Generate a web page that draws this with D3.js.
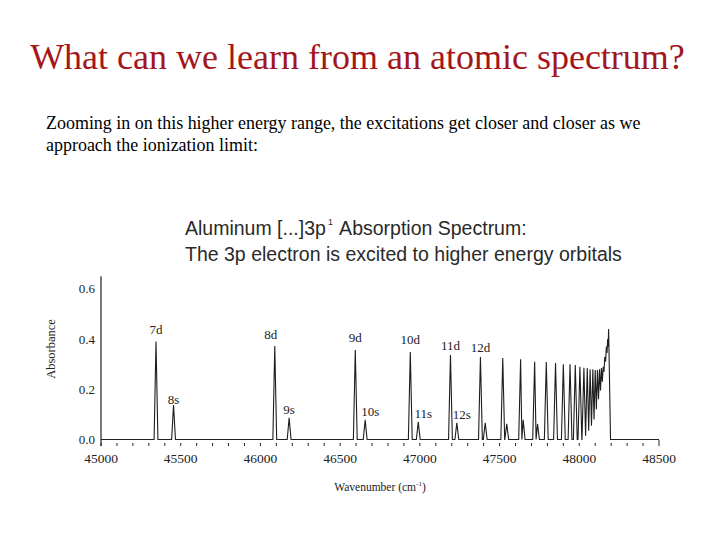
<!DOCTYPE html>
<html>
<head>
<meta charset="utf-8">
<script src="https://cdn.jsdelivr.net/npm/d3@7"></script>
<style>
  html, body { margin: 0; padding: 0; background: #fff; }
  svg { display: block; }
</style>
</head>
<body>
<svg id="chart" width="720" height="540"></svg>
<script>
// ---- data ----
const xTickValues = [45000, 45500, 46000, 46500, 47000, 47500, 48000, 48500];
const xTickLabels = ["45000", "45500", "46000", "46500", "47000", "47500", "48000", "48500"];
const yTickValues = [0.0, 0.2, 0.4, 0.6];
const yTickLabels = ["0.0", "0.2", "0.4", "0.6"];

// peak positions (cm^-1), peak absorbance, and absorbance floor after each peak
const peakPos = [45345, 45455, 46090, 46180, 46595, 46657, 46940, 46990, 47192, 47232,
                 47380, 47410, 47520, 47545, 47632, 47648, 47720, 47738, 47793, 47851,
                 47900, 47942, 47975, 48004, 48029, 48050, 48068, 48085, 48100, 48114,
                 48127, 48139, 48150, 48160, 48170, 48178, 48184];
const peakAbs = [0.39, 0.137, 0.372, 0.086, 0.357, 0.078, 0.349, 0.07, 0.337, 0.066,
                 0.329, 0.066, 0.325, 0.062, 0.32, 0.078, 0.31, 0.062, 0.309, 0.305,
                 0.30, 0.30, 0.297, 0.29, 0.286, 0.285, 0.28, 0.28, 0.277, 0.277,
                 0.28, 0.285, 0.29, 0.33, 0.37, 0.40, 0.44];
const peakFloor = [0, 0, 0, 0, 0, 0, 0, 0, 0, 0,
                   0, 0, 0, 0, 0, 0, 0, 0, 0, 0,
                   0, 0, 0, 0, 0.015, 0.035, 0.055, 0.08, 0.12, 0.16,
                   0.195, 0.23, 0.27, 0.31, 0.345, 0.37, 0];
const peakNames = ["7d", "8s", "8d", "9s", "9d", "10s", "10d", "11s", "11d", "12s", "12d"];

const pageTitle = "What can we learn from an atomic spectrum?";
const introLines = ["Zooming in on this higher energy range, the excitations get closer and closer as we",
                    "approach the ionization limit:"];
const chartTitle2 = "The 3p electron is excited to higher energy orbitals";
const xDomain = [45000, 48500];
const yDomain = [0, 0.65];

// ---- drawing ----
const svg = d3.select("#chart");
const serif = "'Liberation Serif', 'Times New Roman', serif";
const sans = "'Liberation Sans', Arial, sans-serif";
const ink = "#222";

function fit(sel, target) {
  const w = sel.node().getComputedTextLength();
  const fs = parseFloat(sel.attr("font-size"));
  sel.attr("font-size", fs * target / w);
}

// page title
const t = svg.append("text").attr("x", 357.5).attr("y", 69)
  .attr("text-anchor", "middle").attr("font-family", serif).attr("font-size", 36)
  .attr("fill", "#a3161a").text(pageTitle);
fit(t, 655);

// intro paragraph
const l1 = svg.append("text").attr("x", 46).attr("y", 129)
  .attr("font-family", serif).attr("font-size", 17).attr("fill", "#000").text(introLines[0]);
fit(l1, 595);
svg.append("text").attr("x", 46).attr("y", 151)
  .attr("font-family", serif).attr("font-size", l1.attr("font-size")).attr("fill", "#000").text(introLines[1]);

// chart title
const ct2 = svg.append("text").attr("x", 185).attr("y", 261)
  .attr("font-family", sans).attr("font-size", 19).attr("fill", "#2a2a2a").text(chartTitle2);
fit(ct2, 437);
const ctfs = +ct2.attr("font-size");
const ct1 = svg.append("text").attr("x", 185).attr("y", 234.5)
  .attr("font-family", sans).attr("font-size", ctfs).attr("fill", "#2a2a2a");
ct1.append("tspan").text("Aluminum [...]3p");
ct1.append("tspan").attr("font-size", ctfs * 0.45).attr("dy", -ctfs * 0.5).attr("dx", 2).text("1");
ct1.append("tspan").attr("dy", ctfs * 0.5).attr("dx", 2).text(" Absorption Spectrum:");

// scales
const x = d3.scaleLinear().domain(xDomain).range([101, 659]);
const y = d3.scaleLinear().domain(yDomain).range([439.5, 439.5 - 0.65 * 251]);
const axisY = 446;

// y axis line
svg.append("line").attr("x1", 101).attr("x2", 101)
  .attr("y1", y(yDomain[1])).attr("y2", axisY)
  .attr("stroke", ink).attr("stroke-width", 1.2);

// y tick labels
svg.selectAll(".ylab").data(yTickValues).join("text")
  .attr("x", 95).attr("y", d => y(d) + 4.5)
  .attr("text-anchor", "end").attr("font-family", serif).attr("font-size", 13)
  .attr("fill", ink).text((d, i) => yTickLabels[i]);

// x minor/major ticks (no domain line)
const minor = x.ticks(35);
svg.selectAll(".xt").data(minor).join("line")
  .attr("x1", d => x(d)).attr("x2", d => x(d))
  .attr("y1", d => axisY - (d === xDomain[1] ? 6 : 3)).attr("y2", axisY)
  .attr("stroke", ink).attr("stroke-width", 1);

// x tick labels
svg.selectAll(".xlab").data(xTickValues).join("text")
  .attr("x", d => x(d)).attr("y", 463)
  .attr("text-anchor", "middle").attr("font-family", serif).attr("font-size", 13.5)
  .attr("fill", ink).text((d, i) => xTickLabels[i]);

// axis titles
const xt = svg.append("text").attr("x", 380).attr("y", 491)
  .attr("text-anchor", "middle").attr("font-family", serif).attr("font-size", 11.5).attr("fill", ink);
xt.append("tspan").text("Wavenumber (cm");
xt.append("tspan").attr("font-size", 7).attr("dy", -5).text("-1");
xt.append("tspan").attr("dy", 5).text(")");

svg.append("text").attr("transform", "translate(55,349) rotate(-90)")
  .attr("text-anchor", "middle").attr("font-family", serif).attr("font-size", 12.5)
  .attr("fill", ink).text("Absorbance");

// spectrum line built from the peak table
const pts = [[xDomain[0], 0]];
let prevFloor = 0;
peakPos.forEach((c, i) => {
  const prevC = i > 0 ? peakPos[i - 1] : c - 100;
  const nextC = i < peakPos.length - 1 ? peakPos[i + 1] : c + 100;
  const hL = Math.min(12, (c - prevC) / 2);
  const hR = Math.min(12, (nextC - c) / 2);
  pts.push([c - hL, prevFloor]);
  pts.push([c, peakAbs[i]]);
  pts.push([c + hR, peakFloor[i]]);
  prevFloor = peakFloor[i];
});
pts.push([xDomain[1], 0]);

svg.append("path").datum(pts)
  .attr("d", d3.line().x(d => x(d[0])).y(d => y(d[1])))
  .attr("fill", "none").attr("stroke", "#1e1e1e").attr("stroke-width", 1.1)
  .attr("stroke-linejoin", "miter");

// peak labels
const isS = d => d.endsWith("s");
svg.selectAll(".plab").data(peakNames).join("text")
  .attr("x", (d, i) => x(peakPos[i]) + (isS(d) && i > 1 ? (d === "9s" ? 0 : 5) : 0) - (d === "8d" ? 4 : 0))
  .attr("y", (d, i) => y(peakAbs[i]) - (isS(d) ? (i === 1 ? 1.5 : 4) : (i < 8 ? 7.5 : 5)))
  .attr("text-anchor", "middle").attr("font-family", serif).attr("font-size", 13)
  .attr("fill", ink).text(d => d);
</script>
</body>
</html>
